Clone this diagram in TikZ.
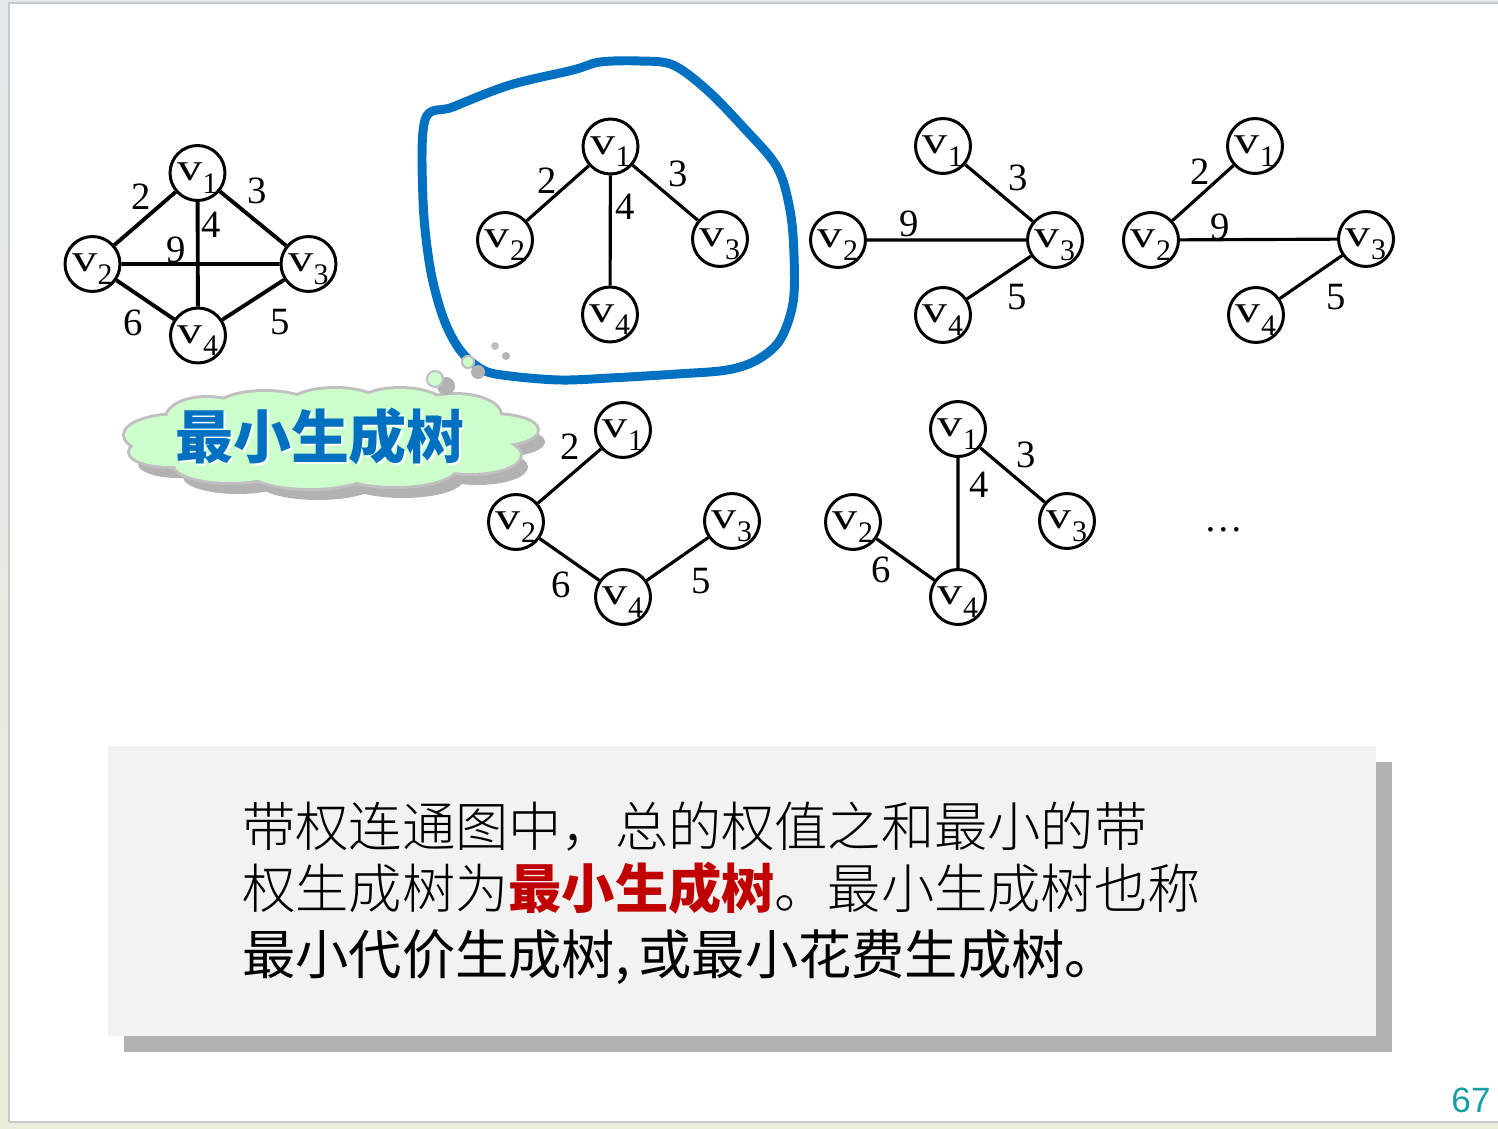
\documentclass[tikz,border=0pt]{standalone}
\usepackage{fontspec}
\usepackage{graphicx}
\setmainfont{Liberation Serif}
\newfontfamily\cjk{Noto Sans CJK SC}
\newfontfamily\cjklight{Noto Sans CJK SC Light}
\newfontfamily\sansnum{Liberation Sans}
\definecolor{loopblue}{RGB}{0,112,192}
\definecolor{keyred}{RGB}{192,0,0}
\definecolor{cloudgreen}{RGB}{204,255,204}
\definecolor{cloudedge}{RGB}{192,192,192}
\definecolor{shadowgrey}{RGB}{178,178,178}
\definecolor{boxgrey}{RGB}{242,242,242}
\definecolor{pagenum}{RGB}{20,160,160}
\definecolor{deskblue}{RGB}{226,231,236}
\definecolor{deskgreen}{RGB}{233,238,218}
\definecolor{slideedge}{RGB}{200,200,200}
% vertex label: wide "v" with a lowered index
\newcommand\vx[1]{\scalebox{1.3}[1]{\fontsize{22}{22}\selectfont v}\raisebox{-7pt}{\fontsize{17}{17}\selectfont #1}}
\begin{document}
\begin{tikzpicture}[x=0.02cm,y=-0.02cm,
  vtx/.style={circle,draw,line width=1.7pt,minimum size=1.1cm,inner sep=0pt,fill=white,
    text height=13pt,text depth=4pt},
  edge/.style={line width=1.8pt},
  thickedge/.style={line width=2.2pt},
  wt/.style={font=\fontsize{22}{22}\selectfont,inner sep=0pt},
  bubble/.style={fill=cloudgreen,draw=cloudedge,line width=1.2pt},
  bubshadow/.style={fill=shadowgrey},
  boxline/.style={anchor=base west,inner sep=0pt,font=\cjklight\fontsize{30.3}{30.3}\selectfont},
  boxline3/.style={anchor=base west,inner sep=0pt,font=\cjk\fontsize{30.3}{30.3}\selectfont}]
\useasboundingbox (0,0) rectangle (1498,1129);
% desk and slide
\shade[top color=deskblue,bottom color=deskgreen] (0,0) rectangle (1498,1129);
\fill[white] (9,3) rectangle (1510,1122);
\draw[slideedge,line width=0.8pt] (9,1122) -- (9,3) -- (1510,3);
\draw[slideedge,line width=0.8pt] (9,1122) -- (1510,1122);

% ---- complete graph
\node[vtx] (a1) at (197.5,173) {\vx1};
\node[vtx] (a2) at (92.5,264) {\vx2};
\node[vtx] (a3) at (308.5,264) {\vx3};
\node[vtx] (a4) at (198,335.5) {\vx4};
\draw[thickedge] (a1)--(a2) (a1)--(a3) (a1)--(a4) (a2)--(a3) (a2)--(a4) (a3)--(a4);
\node[wt] (wa12) at (141,197) {2};
\node[wt] (wa13) at (257,191) {3};
\node[wt] (wa14) at (211,225) {4};
\node[wt] (wa23) at (176,250) {9};
\node[wt] (wa24) at (133,323) {6};
\node[wt] (wa34) at (280,322) {5};

% ---- circled tree
\node[vtx] (b1) at (610.5,146.5) {\vx1};
\node[vtx] (b2) at (505,240) {\vx2};
\node[vtx] (b3) at (720,239) {\vx3};
\node[vtx] (b4) at (610,314.5) {\vx4};
\draw[edge] (b1)--(b2) (b1)--(b3) (b1)--(b4);
\node[wt] (wb12) at (547.5,181) {2};
\node[wt] (wb13) at (678,174) {3};
\node[wt] (wb14) at (625,207) {4};

% hand-drawn loop
\draw[loopblue,line width=5.1pt,line cap=round,line join=round]
  plot[smooth cycle,tension=0.55] coordinates {
  (425,120) (453,107) (510,85) (573,70) (600,62) (640,61) (673,65) (707,90)
  (743,127) (777,167) (790,210) (794,255) (793,303) (780,340) (757,360)
  (727,370) (677,374) (610,378) (560,380) (510,376) (483,370) (460,350)
  (443,317) (430,267) (423,200)};

% ---- tree 3
\node[vtx] (c1) at (943,146) {\vx1};
\node[vtx] (c2) at (838,240) {\vx2};
\node[vtx] (c3) at (1055,240) {\vx3};
\node[vtx] (c4) at (943,315) {\vx4};
\draw[edge] (c1)--(c3) (c2)--(c3) (c3)--(c4);
\node[wt] (wc13) at (1018,178) {3};
\node[wt] (wc23) at (909,224) {9};
\node[wt] (wc34) at (1017,297) {5};

% ---- tree 4
\node[vtx] (d1) at (1255,146) {\vx1};
\node[vtx] (d2) at (1151,240) {\vx2};
\node[vtx] (d3) at (1366,239) {\vx3};
\node[vtx] (d4) at (1256,315) {\vx4};
\draw[edge] (d1)--(d2) (d2)--(d3) (d3)--(d4);
\node[wt] (wd12) at (1200,172) {2};
\node[wt] (wd23) at (1220,227) {9};
\node[wt] (wd34) at (1336,297) {5};

% ---- tree 5
\node[vtx] (e1) at (623,430) {\vx1};
\node[vtx] (e2) at (516,522) {\vx2};
\node[vtx] (e3) at (732,521) {\vx3};
\node[vtx] (e4) at (623,597) {\vx4};
\draw[edge] (e1)--(e2) (e2)--(e4) (e4)--(e3);
\node[wt] (we12) at (570,447) {2};
\node[wt] (we24) at (561,585) {6};
\node[wt] (we34) at (701,581) {5};

% ---- tree 6
\node[vtx] (f1) at (958,429) {\vx1};
\node[vtx] (f2) at (853,522) {\vx2};
\node[vtx] (f3) at (1067,521) {\vx3};
\node[vtx] (f4) at (958,597) {\vx4};
\draw[edge] (f1)--(f4) (f1)--(f3) (f2)--(f4);
\node[wt] (wf14) at (979,485) {4};
\node[wt] (wf13) at (1026,455) {3};
\node[wt] (wf24) at (881,570) {6};

\node[wt] (more) at (1224,530) {…};

% ---- thought cloud
\def\cloudparts{(330,440) ellipse [x radius=175,y radius=32]
  (180,435) ellipse [x radius=55,y radius=20]
  (207,418) ellipse [x radius=40,y radius=20]
  (265,410) ellipse [x radius=50,y radius=18]
  (335,405) ellipse [x radius=45,y radius=16]
  (400,407) ellipse [x radius=45,y radius=18]
  (455,415) ellipse [x radius=45,y radius=20]
  (492,430) ellipse [x radius=45,y radius=15]
  (470,455) ellipse [x radius=50,y radius=18]
  (395,468) ellipse [x radius=60,y radius=18]
  (310,471) ellipse [x radius=60,y radius=17]
  (230,465) ellipse [x radius=55,y radius=17]
  (170,452) ellipse [x radius=40,y radius=14]}
\fill[shadowgrey,shift={(8,12)}] \cloudparts;
\draw[cloudedge,line width=3.4pt] \cloudparts;
\fill[cloudgreen] \cloudparts;
\node[text=white,font=\cjk\bfseries\fontsize{33}{33}\selectfont,inner sep=0pt] (cloudglow) at (322,438) {最小生成树};
\node[text=loopblue,font=\cjk\bfseries\fontsize{33}{33}\selectfont,inner sep=0pt] (cloudtext) at (320,436) {最小生成树};

% small thought bubbles
\fill[bubshadow] (446,386) circle (9);
\draw[bubble] (435,379) circle (8);
\fill[bubshadow] (478,372) circle (7);
\draw[bubble] (468,362) circle (6);
\fill[bubshadow] (506,356) circle (4);
\fill[cloudedge] (495,346) circle (4);

% ---- definition box
\fill[shadowgrey] (124,762) rectangle (1392,1052);
\fill[boxgrey] (108,746) rectangle (1376,1036);
\node[boxline] (l1) at (242,846) {带权连通图中，总的权值之和最小的带};
\node[boxline] (l2) at (242,908) {权生成树为{\cjk\bfseries\color{keyred}最小生成树}。最小生成树也称};
\node[boxline3] (l3) at (242,974) {最小代价生成树,\,或最小花费生成树。};

\node[text=pagenum,font=\sansnum\fontsize{20}{20}\selectfont,inner sep=0pt] (pg) at (1471,1100) {67};
\end{tikzpicture}
\end{document}
